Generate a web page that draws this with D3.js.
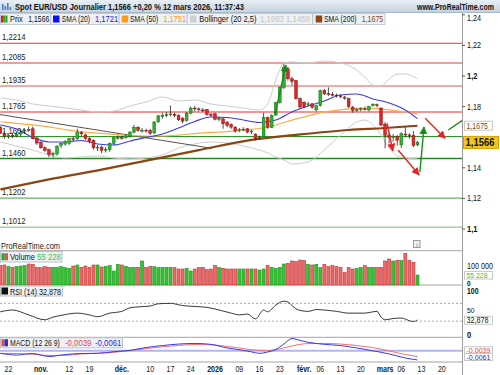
<!DOCTYPE html>
<html>
<head>
<meta charset="utf-8">
<script src="https://cdn.jsdelivr.net/npm/d3@7"></script>
<style>
body { margin: 0; background: #fff; }
svg { display: block; font-family: "Liberation Sans", Arial, sans-serif; }
</style>
</head>
<body>
<svg id="chart" width="500" height="375"></svg>
<script>
// daily candles, index 0 = 20 oct. 2025, last = 12 mars 2026
const opens  = [1.1662,1.1625,1.1605,1.1612,1.1608,1.1620,1.1640,1.1650,1.1655,1.1595,1.1568,1.1531,1.1518,1.1488,1.1490,1.1545,1.1555,1.1560,1.1590,1.1590,1.1630,1.1615,1.1592,1.1580,1.1530,1.1535,1.1515,1.1520,1.1560,1.1595,1.1598,1.1598,1.1605,1.1633,1.1665,1.1645,1.1645,1.1645,1.1628,1.1700,1.1740,1.1745,1.1748,1.1750,1.1742,1.1725,1.1710,1.1757,1.1790,1.1785,1.1778,1.1780,1.1748,1.1753,1.1720,1.1720,1.1699,1.1683,1.1666,1.1645,1.1650,1.1655,1.1635,1.1620,1.1595,1.1605,1.1729,1.1664,1.1745,1.1826,1.1924,1.2047,1.1982,1.1969,1.1852,1.1828,1.1815,1.1818,1.1778,1.1807,1.1904,1.1885,1.1880,1.1875,1.1870,1.1862,1.1852,1.1796,1.1778,1.1782,1.1785,1.1778,1.1808,1.1812,1.1790,1.1685,1.1615,1.1600,1.1605,1.1550,1.1620,1.1615,1.1612,1.1550];
const highs  = [1.1672,1.1640,1.1625,1.1630,1.1630,1.1650,1.1655,1.1668,1.1670,1.1600,1.1572,1.1540,1.1525,1.1505,1.1548,1.1565,1.1580,1.1595,1.1605,1.1655,1.1640,1.1625,1.1600,1.1585,1.1550,1.1545,1.1535,1.1565,1.1600,1.1612,1.1610,1.1620,1.1640,1.1680,1.1672,1.1660,1.1655,1.1655,1.1705,1.1745,1.1760,1.1765,1.1807,1.1760,1.1750,1.1730,1.1765,1.1800,1.1805,1.1795,1.1790,1.1785,1.1760,1.1760,1.1735,1.1725,1.1705,1.1690,1.1672,1.1660,1.1665,1.1660,1.1650,1.1625,1.1610,1.1760,1.1735,1.1750,1.1830,1.1930,1.2080,1.2060,1.1995,1.1975,1.1860,1.1835,1.1830,1.1825,1.1812,1.1910,1.1915,1.1926,1.1895,1.1885,1.1880,1.1870,1.1858,1.1805,1.1790,1.1795,1.1800,1.1805,1.1822,1.1820,1.1795,1.1700,1.1630,1.1620,1.1615,1.1632,1.1666,1.1625,1.1640,1.1575];
const lows   = [1.1620,1.1590,1.1590,1.1595,1.1600,1.1605,1.1625,1.1635,1.1585,1.1550,1.1525,1.1505,1.1470,1.1468,1.1480,1.1530,1.1545,1.1550,1.1575,1.1580,1.1605,1.1580,1.1560,1.1520,1.1510,1.1495,1.1500,1.1505,1.1550,1.1585,1.1585,1.1590,1.1598,1.1625,1.1635,1.1630,1.1630,1.1615,1.1620,1.1695,1.1720,1.1730,1.1735,1.1730,1.1705,1.1690,1.1700,1.1750,1.1770,1.1770,1.1765,1.1740,1.1735,1.1710,1.1705,1.1655,1.1665,1.1655,1.1630,1.1632,1.1640,1.1625,1.1620,1.1580,1.1585,1.1600,1.1655,1.1660,1.1740,1.1820,1.1915,1.1970,1.1940,1.1845,1.1785,1.1790,1.1800,1.1785,1.1770,1.1800,1.1875,1.1870,1.1865,1.1860,1.1855,1.1845,1.1790,1.1760,1.1765,1.1770,1.1775,1.1770,1.1800,1.1795,1.1670,1.1527,1.1560,1.1570,1.1545,1.1530,1.1600,1.1590,1.1535,1.1542];
const closes = [1.1628,1.1605,1.1612,1.1608,1.1620,1.1632,1.1645,1.1648,1.1590,1.1562,1.1531,1.1514,1.1486,1.1492,1.1540,1.1560,1.1570,1.1590,1.1588,1.1633,1.1622,1.1592,1.1575,1.1531,1.1535,1.1514,1.1520,1.1560,1.1597,1.1598,1.1596,1.1608,1.1633,1.1665,1.1645,1.1645,1.1642,1.1625,1.1700,1.1740,1.1742,1.1748,1.1752,1.1742,1.1714,1.1705,1.1757,1.1790,1.1786,1.1780,1.1775,1.1749,1.1746,1.1718,1.1722,1.1688,1.1677,1.1666,1.1640,1.1650,1.1652,1.1634,1.1640,1.1592,1.1600,1.1729,1.1664,1.1742,1.1826,1.1924,1.2054,1.1982,1.1965,1.1852,1.1798,1.1800,1.1818,1.1796,1.1807,1.1904,1.1883,1.1883,1.1878,1.1872,1.1865,1.1855,1.1800,1.1776,1.1780,1.1786,1.1783,1.1800,1.1815,1.1807,1.1680,1.1612,1.1598,1.1605,1.1580,1.1623,1.1615,1.1612,1.1547,1.1566];
const volumes = [101800,105300,96500,93000,96500,100000,101800,110500,108800,93000,91200,96500,93000,93000,93000,96500,91200,87700,100000,105300,93000,100000,93000,105300,105300,94700,98200,101800,73700,108800,105300,98200,93000,93000,93000,126300,91200,98200,96500,91200,93000,93000,93000,91200,84200,84200,87700,73700,84200,91200,93000,80700,84200,101800,91200,87700,84200,84200,84200,84200,84200,84200,84200,84200,78900,84200,101800,93000,87700,93000,110500,114000,126300,122800,131600,128100,108800,105300,108800,91200,108800,96500,101800,96500,93000,66700,91200,84200,87700,93000,101800,93000,93000,93000,93000,126300,136800,126300,129800,128100,166700,129800,119300,52600];

// indicator lines (index, value)
const smaIdx = [0,4,8,12,16,20,24,28,32,36,40,44,48,52,56,60,64,68,72,76,80,84,88,92,96,100,103];
const sma20  = [1.1680,1.1654,1.1598,1.1569,1.1569,1.1578,1.1556,1.1549,1.1575,1.1598,1.1621,1.1660,1.1703,1.1732,1.1729,1.1712,1.1696,1.1712,1.1765,1.1804,1.1837,1.1876,1.1882,1.1850,1.1824,1.1778,1.1721];
const sma50  = [1.1701,1.1690,1.1680,1.1667,1.1650,1.1637,1.1627,1.1618,1.1611,1.1608,1.1608,1.1614,1.1624,1.1631,1.1637,1.1647,1.1657,1.1680,1.1712,1.1739,1.1765,1.1778,1.1788,1.1788,1.1778,1.1765,1.1751];
const sma200Idx = [0,12,25,37,49,62,74,86,95,103];
const sma200 = [1.1259,1.1324,1.1388,1.1452,1.1516,1.1582,1.1618,1.1647,1.1660,1.1675];
const bollIdx = [0,4,8,12,16,20,24,28,32,36,40,44,48,52,56,60,64,66,68,70,72,76,80,84,88,90,92,94,96,98,100,103];
const bollUp  = [1.1856,1.1843,1.1817,1.1804,1.1791,1.1778,1.1765,1.1771,1.1804,1.1830,1.1863,1.1837,1.1843,1.1817,1.1804,1.1791,1.1778,1.1817,1.1974,1.2085,1.2092,1.2085,1.2098,1.2085,1.2039,1.1993,1.1941,1.1935,1.1980,1.2013,1.2013,1.1983];
const bollLow = [1.1569,1.1542,1.1516,1.1484,1.1464,1.1471,1.1477,1.1464,1.1458,1.1464,1.1484,1.1529,1.1556,1.1569,1.1562,1.1542,1.1516,1.1497,1.1471,1.1451,1.1425,1.1438,1.1516,1.1614,1.1699,1.1712,1.1680,1.1614,1.1529,1.1477,1.1464,1.1458];

const rsiIdx = [0,3,7,11,13,15,19,22,24,27,30,32,34,37,39,42,45,48,51,54,57,59,61,63,65,66,68,70,71,72,73,74,76,78,80,83,86,88,90,92,93,94,95,97,99,101,102,103];
const rsiVal = [51,55,44,33,39,43,48,44,40,48,52,60,62,64,69,70,65,63,61,55,48,44,46,35,55,51,66,75,73,65,58,54,52,56,55,52,48,48,48,51,52,39,33,36,37,31,29,32.878];

const macdIdx = [0,4,8,12,16,20,24,28,32,36,40,44,48,52,56,60,62,64,66,68,70,72,74,76,80,84,88,92,96,100,103];
const macdLine = [-0.0017,-0.0028,-0.0018,-0.0038,-0.0025,-0.0018,-0.0017,-0.0006,0.0003,0.0022,0.0035,0.0045,0.0049,0.0043,0.0019,0.0003,-0.0007,-0.0017,-0.0008,0.0009,0.0045,0.0082,0.0069,0.0057,0.0043,0.0035,0.0019,0.0000,-0.0021,-0.0048,-0.0061];
const macdSignal = [-0.0017,-0.0018,-0.0023,-0.0031,-0.0030,-0.0021,-0.0016,-0.0010,0.0002,0.0015,0.0027,0.0036,0.0042,0.0040,0.0029,0.0015,0.0007,0.0003,0.0001,0.0007,0.0019,0.0032,0.0043,0.0048,0.0049,0.0045,0.0035,0.0021,-0.0001,-0.0025,-0.0039];

// support / resistance levels drawn on the chart
const levels = [1.2214,1.2085,1.1935,1.1765,1.1604,1.1460,1.1202,1.1012];
const levelColors = ["#e23b3b","#e23b3b","#f4a9a9","#f07070","#1f8a1f","#1f8a1f","#34a834","#77bb77"];
const levelWidths = [1,1,2,1.5,1,1.5,1,1];

// trend line and hand drawn arrows: [index, price]
const trendFrom = [-0.1,1.1748], trendTo = [52.3,1.1527];
const arrowFrom = [[95.5,1.1691],[98.2,1.1516],[103.6,1.1373],[104.9,1.1724],[110.6,1.1647],[67.8,1.1745]];
const arrowTo   = [[96.9,1.1510],[103.4,1.1353],[104.6,1.1667],[109.8,1.1593],[114.2,1.1712],[70.5,1.2072]];
const arrowColor = ["red","red","green","red","green","green"];
const arrowHead = [true,true,true,true,false,true];

const priceTicks = [1.1,1.12,1.14,1.16,1.18,1.2,1.22,1.24];
const tickIdx  = [2,10,17,22,30,37,42,47,53,59,64,69,75,79,84,89,95,99,104,109];
const tickText = ["22","nov.","12","19","déc.","10","17","24","2026","09","16","23","févr.","06","13","20","mars","06","13","20"];

const AX = 462;
const comma = v => String(v).replace(".", ",");
const svg = d3.select("#chart");

const x = d3.scaleLinear().domain([0, 103]).range([0.35, 417.5]);
const y = d3.scaleLinear().domain([1.1, 1.22]).range([229, 45.4]);
const yVol = d3.scaleLinear().domain([0, 100000]).range([285, 266]);
const yRsi = d3.scaleLinear().domain([0, 100]).range([334.5, 290]);
const yMacd = d3.scaleLinear().domain([0, 0.01]).range([350.8, 335.8]);

const defs = svg.append("defs");
const grad = defs.append("linearGradient").attr("id", "bar").attr("x1", 0).attr("x2", 0).attr("y1", 0).attr("y2", 1);
grad.append("stop").attr("offset", "0%").attr("stop-color", "#e9eff5");
grad.append("stop").attr("offset", "100%").attr("stop-color", "#c6d3df");
defs.append("clipPath").attr("id", "mainclip").append("rect").attr("x", 0).attr("y", 25).attr("width", AX).attr("height", 225);
defs.append("clipPath").attr("id", "plotclip").append("rect").attr("x", 0).attr("y", 0).attr("width", AX).attr("height", 375);
[["red", "#e62222"], ["green", "#1a8a1a"]].forEach(([id, c]) => {
    defs.append("marker").attr("id", "arr-" + id)
        .attr("viewBox", "0 0 10 10").attr("refX", 9).attr("refY", 5)
        .attr("markerUnits", "userSpaceOnUse").attr("markerWidth", 8).attr("markerHeight", 8)
        .attr("orient", "auto")
        .append("path").attr("d", "M0,0L10,5L0,10z").attr("fill", c);
});

// text helper: the original uses a narrow UI font, so squeeze the text to width w
function label(tx, ty, str, fs, color, w, bold, parent) {
    const t = (parent || svg).append("text").attr("x", 0).attr("y", 0).attr("font-size", fs)
        .attr("fill", color || "#111").text(str);
    if (bold) t.attr("font-weight", "bold");
    const nat = t.node().getComputedTextLength();
    const sx = w ? w / nat : 0.83;
    t.attr("transform", "translate(" + tx + "," + ty + ") scale(" + sx.toFixed(3) + ",1)");
    return t;
}

// title bar
svg.append("rect").attr("x", 0).attr("y", 0).attr("width", 500).attr("height", 12).attr("fill", "url(#bar)");
svg.append("line").attr("x1", 0).attr("x2", 500).attr("y1", 12.5).attr("y2", 12.5).attr("stroke", "#aab8c6");
[[2, 6], [4.5, 4], [7, 7], [9.5, 3]].forEach(([bx, h]) => {
    svg.append("rect").attr("x", bx).attr("y", 10 - h).attr("width", 1.5).attr("height", h).attr("fill", "#3b7fd0");
});
label(15, 9.6, "Spot EUR/USD Journalier 1,1566 +0,20 % 12 mars 2026, 11:37:43", 9, "#111", 229, true);
label(417, 9.6, "www.ProRealTime.com", 8.8, "#111", 77, true);

// legend row
svg.append("rect").attr("x", 0.5).attr("y", 13.5).attr("width", 384.5).attr("height", 11).attr("fill", "#eef1f4").attr("stroke", "#c3ccd6");
[50.7, 119, 187, 312.7].forEach(sx => {
    svg.append("line").attr("x1", sx).attr("x2", sx).attr("y1", 13.5).attr("y2", 24.5).attr("stroke", "#b4bec9");
});
function swatch(sx, sy, colors) {
    const w = 6.5 / colors.length;
    colors.forEach((c, k) => svg.append("rect").attr("x", sx + k * w).attr("y", sy).attr("width", w).attr("height", 7).attr("fill", c));
}
swatch(1, 15.5, ["#d62020", "#22aa22", "#22aa22"]);
label(10, 22.3, "Prix", 9, "#111", 12.7);
label(28.3, 22.3, "1,1566", 9, "#111", 21);
swatch(53, 15.5, ["#1010ee"]);
label(61.7, 22.3, "SMA (20)", 9, "#111", 28.3);
label(95, 22.3, "1,1721", 9, "#2424e6", 23.3);
swatch(121.7, 15.5, ["#ff9a1a"]);
label(130, 22.3, "SMA (50)", 9, "#111", 28.3);
label(163.3, 22.3, "1,1751", 9, "#ff9a1a", 22.7);
swatch(190, 15.5, ["#cfcfcf"]);
label(199.3, 22.3, "Bollinger (20 2,5)", 9, "#111", 57.4);
label(260, 22.3, "1,1983 1,1458", 9, "#c4c4c4", 50);
swatch(315.7, 15.5, ["#8b4513"]);
label(324, 22.3, "SMA (200)", 9, "#111", 32.7);
label(361.7, 22.3, "1,1675", 9, "#8b4513", 21.6);

// main price panel
const main = svg.append("g").attr("clip-path", "url(#mainclip)");
levels.forEach((lv, k) => {
    main.append("line").attr("x1", 0).attr("x2", AX).attr("y1", y(lv)).attr("y2", y(lv))
        .attr("stroke", levelColors[k]).attr("stroke-width", levelWidths[k]);
    label(2, y(lv) - 3, comma(lv.toFixed(4)), 9, "#222", 23.5, false, main);
});

const line = (idx, vals, ys) => d3.line().x((d, k) => x(idx[k])).y(d => ys(d)).curve(d3.curveMonotoneX)(vals);
main.append("path").attr("d", line(bollIdx, bollUp, y)).attr("fill", "none").attr("stroke", "#cdcdcd");
main.append("path").attr("d", line(bollIdx, bollLow, y)).attr("fill", "none").attr("stroke", "#cdcdcd");
main.append("line").attr("x1", x(trendFrom[0])).attr("y1", y(trendFrom[1])).attr("x2", x(trendTo[0])).attr("y2", y(trendTo[1]))
    .attr("stroke", "#555").attr("stroke-width", 1);
main.append("path").attr("d", line(sma200Idx, sma200, y)).attr("fill", "none").attr("stroke", "#8b4513").attr("stroke-width", 2.2);
main.append("path").attr("d", line(smaIdx, sma50, y)).attr("fill", "none").attr("stroke", "#ffab45").attr("stroke-width", 1.2);
main.append("path").attr("d", line(smaIdx, sma20, y)).attr("fill", "none").attr("stroke", "#3a3af0").attr("stroke-width", 1.1);

// candles
const up = "#2cb52c", down = "#e02626";
const candle = main.selectAll("g.candle").data(closes).enter().append("g").attr("class", "candle");
candle.append("line")
    .attr("x1", (d, i) => x(i)).attr("x2", (d, i) => x(i))
    .attr("y1", (d, i) => y(highs[i])).attr("y2", (d, i) => y(lows[i]))
    .attr("stroke", "#222").attr("stroke-width", 0.8);
candle.append("rect")
    .attr("x", (d, i) => x(i) - 1.4).attr("width", 2.8)
    .attr("y", (d, i) => y(Math.max(opens[i], d)))
    .attr("height", (d, i) => Math.max(0.8, Math.abs(y(opens[i]) - y(d))))
    .attr("fill", (d, i) => d >= opens[i] ? up : down)
    .attr("stroke", (d, i) => d >= opens[i] ? "#136e13" : "#8e1010").attr("stroke-width", 0.5);

// drawn arrows
arrowFrom.forEach((a, k) => {
    const c = arrowColor[k] == "red" ? "#e62222" : "#1a8a1a";
    const l = svg.append("line").attr("clip-path", "url(#plotclip)")
        .attr("x1", x(a[0])).attr("y1", y(a[1])).attr("x2", x(arrowTo[k][0])).attr("y2", y(arrowTo[k][1]))
        .attr("stroke", c).attr("stroke-width", 1.4);
    if (arrowHead[k]) l.attr("marker-end", "url(#arr-" + arrowColor[k] + ")");
});

label(1, 249, "ProRealTime.com", 9, "#222", 59);
svg.append("rect").attr("x", 413.5).attr("y", 240.5).attr("width", 6.5).attr("height", 7).attr("fill", "#f2f2f2").attr("stroke", "#999");
svg.append("text").attr("x", 416.8).attr("y", 246.5).attr("font-size", 6).attr("text-anchor", "middle").attr("fill", "#666").text("i");

// panel separators
[250.7, 285, 337.3, 362].forEach(sy => {
    svg.append("line").attr("x1", 0).attr("x2", AX).attr("y1", sy).attr("y2", sy).attr("stroke", "#a4a4a4");
});

// volume
svg.selectAll("rect.vol").data(volumes).enter().append("rect").attr("class", "vol")
    .attr("x", (d, i) => x(i) - 1.5).attr("width", 3)
    .attr("y", d => yVol(d)).attr("height", d => yVol(0) - yVol(d))
    .attr("fill", (d, i) => closes[i] >= opens[i] ? "#33c033" : "#e86a6a")
    .attr("stroke", (d, i) => closes[i] >= opens[i] ? "#1c9a1c" : "#c83232").attr("stroke-width", 0.6);
svg.append("rect").attr("x", 0.5).attr("y", 251.5).attr("width", 61.5).attr("height", 10.5).attr("fill", "#eef1f5").attr("stroke", "#b9c2cc");
swatch(1.5, 253.3, ["#22aa22", "#e05050"]);
label(10, 259.8, "Volume", 9, "#111", 25);
label(37.3, 259.8, "55 228", 9, "#44c044", 23.5);

// RSI
[70, 30].forEach(v => {
    svg.append("line").attr("x1", 0).attr("x2", AX).attr("y1", yRsi(v)).attr("y2", yRsi(v))
        .attr("stroke", "#a8a8a8").attr("stroke-dasharray", "2,2");
});
svg.append("path").attr("d", line(rsiIdx, rsiVal, yRsi)).attr("fill", "none").attr("stroke", "#222").attr("stroke-width", 0.9);
svg.append("rect").attr("x", 0.5).attr("y", 286).attr("width", 62).attr("height", 10).attr("fill", "#eef1f5").attr("stroke", "#b9c2cc");
svg.append("rect").attr("x", 1.5).attr("y", 287.5).attr("width", 6.5).attr("height", 7).attr("fill", "#111");
label(10, 294.5, "RSI (14) 32,878", 9, "#111", 51);

// MACD
svg.append("line").attr("x1", 0).attr("x2", AX).attr("y1", yMacd(0)).attr("y2", yMacd(0)).attr("stroke", "#b4b4f4").attr("stroke-width", 2);
svg.append("path").attr("d", line(macdIdx, macdSignal, yMacd)).attr("fill", "none").attr("stroke", "#f07070").attr("stroke-width", 1);
svg.append("path").attr("d", line(macdIdx, macdLine, yMacd)).attr("fill", "none").attr("stroke", "#3a3aee").attr("stroke-width", 1);
svg.append("rect").attr("x", 0.5).attr("y", 337.8).attr("width", 122).attr("height", 10).attr("fill", "#eef1f5").attr("stroke", "#b9c2cc");
svg.append("rect").attr("x", 1.5).attr("y", 339.3).attr("width", 3.2).attr("height", 7).attr("fill", "#e04848");
svg.append("rect").attr("x", 4.7).attr("y", 339.3).attr("width", 3.3).attr("height", 7).attr("fill", "#2a2ae0");
label(10, 346.3, "MACD (12 26 9)", 9, "#111", 50);
label(65, 346.3, "-0,0039", 9, "#e04848", 26.5);
label(95, 346.3, "-0,0061", 9, "#2a2ae0", 26.5);

// right axis
svg.append("line").attr("x1", AX + 0.5).attr("x2", AX + 0.5).attr("y1", 12.5).attr("y2", 375).attr("stroke", "#9a9a9a");
priceTicks.forEach(v => {
    if (v == 1.16) return; // hidden behind the price boxes in the original
    svg.append("line").attr("x1", AX).attr("x2", AX + 3).attr("y1", y(v)).attr("y2", y(v)).attr("stroke", "#555");
    const s = comma(v);
    label(AX + 5, Math.max(21, y(v) + 3), s, 8.5, "#111", s.length * 3.5, v == 1.1 || v == 1.2);
});
function axisBox(val, yy, color, h, fs, w) {
    svg.append("rect").attr("x", AX + 2.5).attr("y", yy - h / 2).attr("width", 28).attr("height", h)
        .attr("fill", "#fff").attr("stroke", "#c8c8c8");
    label(AX + 4.5, yy + fs * 0.36, val, fs, color, w);
}
axisBox("1,1675", y(1.1675), "#8b4513", 9, 8.5, 21.5);
svg.append("rect").attr("x", AX + 1.5).attr("y", y(1.1566) - 6).attr("width", 35).attr("height", 12).attr("fill", "#f5c518").attr("stroke", "#d0a000");
label(AX + 3.5, y(1.1566) + 4, "1,1566", 11, "#111", 29, true);

label(AX + 5, 268.5, "100 000", 8.3, "#111", 26);
axisBox("55 228", 275.2, "#44c044", 7.6, 8, 21);
label(AX + 5, 285.8, "0", 7, "#111", 3.6, true);
label(AX + 5, 293.5, "100", 8.5, "#111", 11.5, true);
label(AX + 5, 313.3, "50", 8, "#111", 7.5);
axisBox("32,878", 320.3, "#111", 8, 8.3, 22);
label(AX + 5, yRsi(0) + 3, "0", 8.5, "#111", 4.2, true);
axisBox("-0,0039", 350, "#e04848", 6.5, 7, 24);
axisBox("-0,0061", 357, "#2a2ae0", 7, 7.5, 24);

// date axis
tickIdx.forEach((ti, k) => {
    const bold = isNaN(+tickText[k]) || tickText[k] == "2026";
    const t = label(0, 371.5, tickText[k], 8.5, "#222", null, bold);
    const w = t.node().getComputedTextLength() * 0.83;
    t.attr("transform", "translate(" + (x(ti) - w / 2).toFixed(1) + ",371.5) scale(0.83,1)");
});
</script>
</body>
</html>
